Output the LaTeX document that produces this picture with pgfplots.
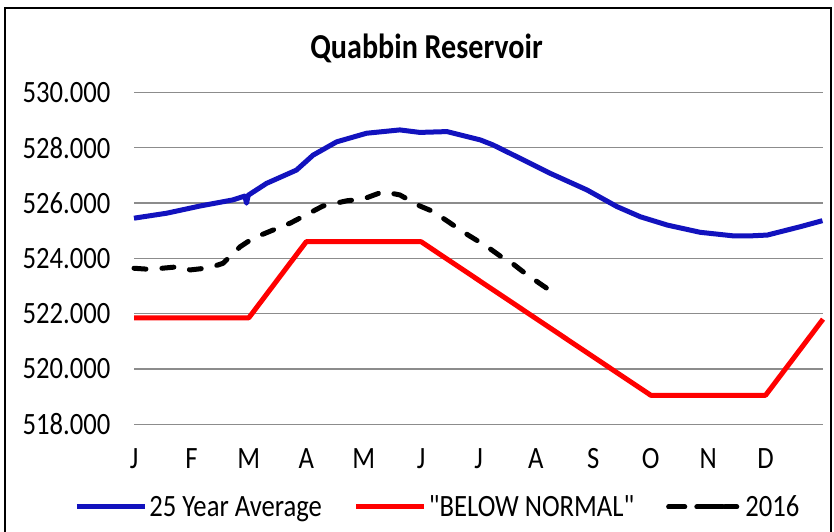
\documentclass[border=0pt]{standalone}
\usepackage{fontspec}
\setmainfont[FakeStretch=0.86, Ligatures=TeXOff]{Carlito}
\usepackage{pgfplots}
\pgfplotsset{compat=1.18}
\definecolor{avgblue}{RGB}{18,18,190}
\definecolor{gridgray}{RGB}{140,140,140}
\pgfplotsset{
  twodash/.style={legend image code/.code={\draw[##1, solid] (0pt,0pt) -- (16pt,0pt); \draw[##1, solid] (38pt,0pt) -- (54pt,0pt); \path (0pt,0pt) -- (72pt,0pt);}},
  solidleg/.style={legend image code/.code={\draw[##1] (0pt,0pt) -- (68pt,0pt);}},
}
\begin{document}
\begin{tikzpicture}[x=1pt,y=1pt]
\useasboundingbox (0,0) rectangle (834,531);
\draw[line width=2pt] (5,-5) -- (5,523) -- (831,523) -- (831,-5);
\node[font=\fontsize{35}{40}\selectfont\bfseries] at (426.5,483) {Quabbin Reservoir};
\begin{axis}[
  at={(134pt,106.7pt)}, anchor=south west,
  scale only axis, width=689pt, height=332pt,
  xmin=0, xmax=12, ymin=518, ymax=530,
  axis line style={draw=none},
  major tick length=0pt,
  ytick={518,520,...,530},
  yticklabels={518.000,520.000,522.000,524.000,526.000,528.000,530.000},
  xtick={0,...,11},
  xticklabels={J,F,M,A,M,J,J,A,S,O,N,D},
  ymajorgrids, grid style={gridgray, line width=1.5pt},
  tick label style={font=\fontsize{31}{36}\selectfont},
  yticklabel style={anchor=east, xshift=-20pt},
  xticklabel style={anchor=center, yshift=-34pt},
  clip=false,
  legend columns=3,
  legend style={draw=none, fill=none, at={(0.441,-0.249)}, anchor=center,
    font=\fontsize{31}{36}\selectfont,
    /tikz/every even column/.append style={column sep=30pt}},
  line join=round,
]
\addplot[avgblue, line width=5pt, solidleg] coordinates {
(0,525.45)(0.57,525.63)(1.15,525.89)(1.72,526.11)(1.93,526.25)(1.96,525.99)(1.99,526.28)
(2.31,526.71)(2.83,527.19)(3.12,527.73)(3.53,528.21)(4.05,528.52)(4.63,528.64)
(4.98,528.55)(5.45,528.58)(6.03,528.28)(6.25,528.10)(6.67,527.67)(7.25,527.07)
(7.89,526.47)(8.41,525.87)(8.82,525.50)(9.29,525.20)(9.86,524.94)(10.44,524.81)
(10.73,524.81)(11.03,524.84)(11.60,525.14)(11.99,525.36)
};
\addlegendentry{25 Year Average}
\addplot[red, line width=5pt, solidleg] coordinates {
(0,521.85)(2,521.85)(3,524.6)(5,524.6)(9,519.05)(11,519.05)(12,521.8)
};
\addlegendentry{\symbol{34}BELOW NORMAL\symbol{34}}
\addplot[black, line width=5pt, line cap=round, dash pattern=on 12pt off 16pt, twodash] coordinates {
(0,523.64)(0.28,523.6)(0.80,523.7)(0.98,523.58)(1.32,523.66)(1.55,523.82)(1.85,524.42)
(2.07,524.72)(2.42,525.02)(2.72,525.27)(3.07,525.65)(3.29,525.89)(3.71,526.08)
(3.99,526.14)(4.34,526.41)(4.63,526.29)(4.98,525.89)(5.21,525.69)(5.56,525.2)
(5.82,524.84)(6.15,524.42)(6.38,524.08)(6.55,523.88)(6.81,523.46)(7.13,523.0)(7.25,522.83)
};
\addlegendentry{2016}
\end{axis}
\end{tikzpicture}
\end{document}
